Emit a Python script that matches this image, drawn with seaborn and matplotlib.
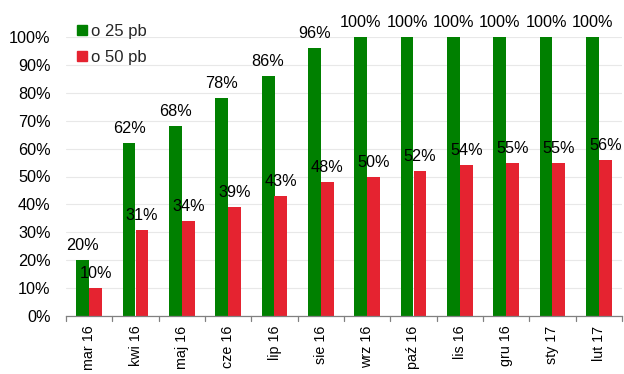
import matplotlib
matplotlib.use("Agg")
import matplotlib.pyplot as plt
import seaborn as sns
import pandas as pd
from matplotlib.ticker import FuncFormatter
from matplotlib.lines import Line2D

categories = ["mar 16", "kwi 16", "maj 16", "cze 16", "lip 16", "sie 16",
              "wrz 16", "paź 16", "lis 16", "gru 16", "sty 17", "lut 17"]
s25 = [20, 62, 68, 78, 86, 96, 100, 100, 100, 100, 100, 100]
s50 = [10, 31, 34, 39, 43, 48, 50, 52, 54, 55, 55, 56]
series_names = ["o 25 pb", "o 50 pb"]

df = pd.DataFrame({
    "cat": categories * 2,
    "val": s25 + s50,
    "series": [series_names[0]] * len(categories) + [series_names[1]] * len(categories),
})

sns.set_theme(style="white")
plt.rcParams["font.family"] = ["Liberation Sans", "DejaVu Sans"]

fig = plt.figure(figsize=(6.24, 3.74), dpi=100)
ax = fig.add_axes([66/624, 58/374, 556/624, 279/374])

palette = {series_names[0]: "#008000", series_names[1]: "#E52330"}
sns.barplot(data=df, x="cat", y="val", hue="series", palette=palette,
            width=0.56, ax=ax, saturation=1, legend=False, linewidth=0, gap=0)

fs = 11.7
ax.set_ylim(0, 100)
ax.set_xlim(-0.5, len(categories) - 0.5)
ax.set_yticks(range(0, 101, 10))
ax.yaxis.set_major_formatter(FuncFormatter(lambda v, p: f"{int(v)}%"))
ax.tick_params(axis="y", labelsize=fs, length=0, pad=11, colors="#000000")
ax.set_xticks([i for i in range(len(categories))])
ax.set_xticklabels(categories, rotation=90, fontsize=10.3)
ax.tick_params(axis="x", length=0, pad=7, colors="#000000")
for i in range(len(categories) + 1):
    ax.plot([i - 0.5, i - 0.5], [0, -1.8], color="#808080", lw=0.9, clip_on=False)
ax.set_xlabel("")
ax.set_ylabel("")
ax.grid(axis="y", color="#E8E8E8", lw=0.8)
ax.set_axisbelow(True)
for s in ["top", "right", "left"]:
    ax.spines[s].set_visible(False)
ax.spines["bottom"].set_color("#808080")
ax.spines["bottom"].set_linewidth(0.9)

for cont in ax.containers:
    ax.bar_label(cont, labels=[f"{int(v)}%" for v in cont.datavalues],
                 fontsize=fs, padding=5, color="#000000")

handles = [Line2D([0], [0], marker="s", linestyle="", markersize=6.5,
                  markerfacecolor=palette[n], markeredgecolor=palette[n]) for n in series_names]
fig.legend(handles, series_names, loc="upper left", bbox_to_anchor=(62/624, 1 - 12/374),
           frameon=False, fontsize=12, handletextpad=0.05, labelspacing=0.7,
           handlelength=1.0, borderpad=0.2)

fig.savefig("out.png", dpi=100)
